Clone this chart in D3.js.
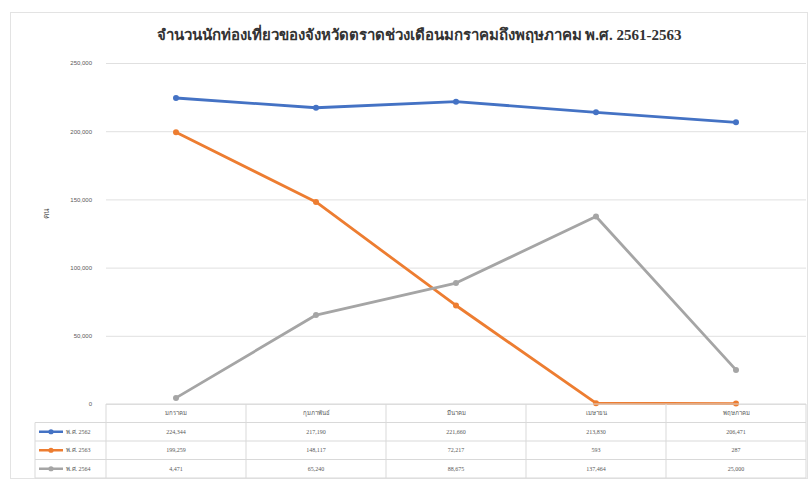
<!DOCTYPE html>
<html>
<head>
<meta charset="utf-8">
<script src="https://cdn.jsdelivr.net/npm/d3@7"></script>
<style>
  body { margin: 0; background: #fff; }
  svg { display: block; font-family: "Liberation Serif", "DejaVu Serif", serif; }
</style>
</head>
<body>
<div id="chart"></div>
<script>
const TITLE = "จำนวนนักท่องเที่ยวของจังหวัดตราดช่วงเดือนมกราคมถึงพฤษภาคม พ.ศ. 2561-2563"
const MONTHS = ["มกราคม", "กุมภาพันธ์", "มีนาคม", "เมษายน", "พฤษภาคม"]
const SERIES_NAMES = ["พ.ศ. 2562", "พ.ศ. 2563", "พ.ศ. 2564"]
const COLORS = ["#4472C4", "#ED7D31", "#A5A5A5"]
const VALUES_A = [224344, 217190, 221660, 213830, 206471]
const VALUES_B = [199259, 148117, 72217, 593, 287]
const VALUES_C = [4471, 65240, 88675, 137464, 25000]
const Y_TICKS = [0, 50000, 100000, 150000, 200000, 250000]

const series = SERIES_NAMES.map((name, i) => ({
  name, color: COLORS[i], values: [VALUES_A, VALUES_B, VALUES_C][i]
}))

const width = 811, height = 481
const margin = { top: 63, right: 5, bottom: 77, left: 106 }
const innerW = width - margin.left - margin.right
const innerH = height - margin.top - margin.bottom

const svg = d3.select("#chart").append("svg")
  .attr("width", width).attr("height", height)

// outer chart frame
svg.append("rect")
  .attr("x", 10.5).attr("y", 12.5)
  .attr("width", 797).attr("height", 466)
  .attr("fill", "none").attr("stroke", "#e3e3e3")

svg.append("text")
  .attr("x", 419).attr("y", 40)
  .attr("text-anchor", "middle")
  .attr("font-size", "15px").attr("font-weight", "bold")
  .attr("fill", "#333")
  .text(TITLE)

const x = d3.scaleBand().domain(MONTHS).range([0, innerW])
const y = d3.scaleLinear().domain([0, 250000]).range([innerH, 0])

const g = svg.append("g").attr("transform", `translate(${margin.left},${margin.top})`)

const yAxis = g.append("g")
  .call(d3.axisLeft(y).tickValues(Y_TICKS).tickSize(-innerW).tickPadding(14)
    .tickFormat(d => d === 0 ? "0" : d3.format(",")(d)))
yAxis.select(".domain").remove()
yAxis.selectAll(".tick line").attr("stroke", "#e0e0e0")
yAxis.selectAll(".tick text").attr("fill", "#595959").attr("font-size", "6px")

svg.append("text")
  .attr("transform", "translate(49,214) rotate(-90)")
  .attr("text-anchor", "middle")
  .attr("font-size", "8px").attr("fill", "#595959")
  .text("คน")

const line = d3.line()
  .x((d, i) => x(MONTHS[i]) + x.bandwidth() / 2)
  .y(d => y(d))

series.forEach(s => {
  g.append("path")
    .datum(s.values)
    .attr("fill", "none")
    .attr("stroke", s.color)
    .attr("stroke-width", 2.8)
    .attr("stroke-linejoin", "round")
    .attr("d", line)
  g.selectAll(null).data(s.values).enter().append("circle")
    .attr("cx", (d, i) => x(MONTHS[i]) + x.bandwidth() / 2)
    .attr("cy", d => y(d))
    .attr("r", 3)
    .attr("fill", s.color)
})

// data table
const rowH = 18.5
const tableTop = margin.top + innerH
const legendLeft = 35
const tg = svg.append("g").attr("font-size", "6px").attr("fill", "#595959")
const gridColor = "#d9d9d9"

// horizontal lines
for (let r = 0; r <= 4; r++) {
  const yy = tableTop + r * rowH
  tg.append("line")
    .attr("x1", r === 0 ? margin.left : legendLeft).attr("x2", width - margin.right)
    .attr("y1", yy).attr("y2", yy)
    .attr("stroke", gridColor)
}
// vertical lines
MONTHS.forEach((m, i) => {
  const xx = margin.left + x(m)
  tg.append("line").attr("x1", xx).attr("x2", xx)
    .attr("y1", tableTop).attr("y2", tableTop + 4 * rowH).attr("stroke", gridColor)
})
tg.append("line").attr("x1", width - margin.right).attr("x2", width - margin.right)
  .attr("y1", tableTop).attr("y2", tableTop + 4 * rowH).attr("stroke", gridColor)
tg.append("line").attr("x1", legendLeft).attr("x2", legendLeft)
  .attr("y1", tableTop + rowH).attr("y2", tableTop + 4 * rowH).attr("stroke", gridColor)

MONTHS.forEach(m => {
  tg.append("text")
    .attr("x", margin.left + x(m) + x.bandwidth() / 2)
    .attr("y", tableTop + rowH / 2 + 2)
    .attr("text-anchor", "middle").attr("fill", "#595959")
    .text(m)
})

series.forEach((s, r) => {
  const cy = tableTop + (r + 1) * rowH + rowH / 2
  tg.append("line")
    .attr("x1", legendLeft + 4).attr("x2", legendLeft + 28)
    .attr("y1", cy).attr("y2", cy)
    .attr("stroke", s.color).attr("stroke-width", 2.5)
  tg.append("circle").attr("cx", legendLeft + 16).attr("cy", cy).attr("r", 2.6).attr("fill", s.color)
  tg.append("text").attr("x", legendLeft + 31).attr("y", cy + 2)
    .attr("fill", "#595959").text(s.name)
  s.values.forEach((v, i) => {
    tg.append("text")
      .attr("x", margin.left + x(MONTHS[i]) + x.bandwidth() / 2)
      .attr("y", cy + 2)
      .attr("text-anchor", "middle").attr("fill", "#595959")
      .text(d3.format(",")(v))
  })
})
</script>
</body>
</html>
